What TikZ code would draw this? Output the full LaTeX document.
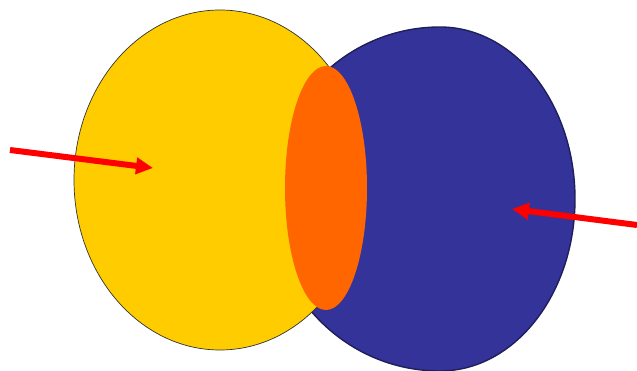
\documentclass[tikz,border=0pt]{standalone}
\usetikzlibrary{arrows.meta}
\definecolor{lensyellow}{HTML}{FFCC00}
\definecolor{lensblue}{HTML}{333399}
\definecolor{lensorange}{HTML}{FF6600}
\begin{document}
\begin{tikzpicture}[x=0.02cm,y=-0.02cm,
  ray/.style={red,line width=0.12cm,-{Triangle[length=0.34cm,width=0.32cm]}}]
  \useasboundingbox (0,0) rectangle (637,371);
  \filldraw[fill=lensblue,draw=lensblue!60!black,thick] (440,27)
    arc[start angle=-90,end angle=90,x radius=135,y radius=172]
    arc[start angle=90,end angle=270,x radius=170,y radius=172] -- cycle;
  \filldraw[fill=lensyellow,draw=black!80,thin] (220,180) ellipse[x radius=146,y radius=170];
  \fill[lensorange] (326,188) ellipse[x radius=41,y radius=122];
  \coordinate (leftin) at (10,150);
  \coordinate (leftend) at (153,168);
  \coordinate (rightin) at (637,225);
  \coordinate (rightend) at (512,209);
  \draw[ray] (leftin) -- (leftend);
  \draw[ray] (rightin) -- (rightend);
\end{tikzpicture}
\end{document}
